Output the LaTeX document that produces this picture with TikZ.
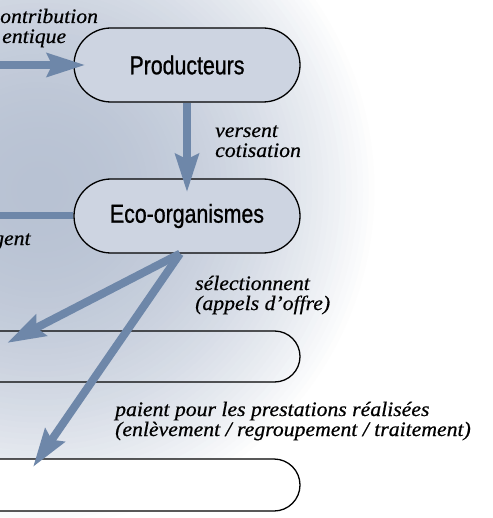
\documentclass[tikz,border=0pt]{standalone}
\usepackage{fontspec}
\usetikzlibrary{arrows.meta,shapes.misc}
\newfontfamily\boxfont[FakeStretch=0.82,FakeBold=0.8]{Liberation Sans}
\newfontfamily\lblfont[FakeStretch=1.06,FakeBold=0.6]{Liberation Serif}
\definecolor{arrowblue}{HTML}{6E87A9}
\definecolor{boxfill}{HTML}{CDD4E1}
\definecolor{bgdark}{HTML}{B8C2D3}
\tikzset{
  pill/.style={rounded rectangle, draw=black, line width=1.3pt, inner sep=0pt,
    font=\boxfont\fontsize{26pt}{30pt}\selectfont},
  conn/.style={draw=arrowblue, line width=8pt,
    -{Stealth[length=38pt,width=23pt,inset=5pt]}},
  plainconn/.style={draw=arrowblue, line width=7pt},
  lbl/.style={anchor=base west, inner sep=0pt,
    font=\lblfont\itshape\fontsize{20.5pt}{20pt}\selectfont}
}
\begin{document}
\begin{tikzpicture}[x=1pt,y=-1pt]
\useasboundingbox (0,0) rectangle (492,518);
\clip (0,0) rectangle (492,518);
\fill[white] (0,0) rectangle (492,518);
\foreach \i in {0,...,59}{
  \pgfmathsetmacro\rr{340*(1-\i/60)}
  \pgfmathsetmacro\pp{100*(1-(1-\i/60)^2)}
  \fill[bgdark!\pp!white] (40,190) circle (\rr);
}
% boxes
\node[pill, fill=boxfill, minimum width=226pt, minimum height=74pt] (prod) at (187,65) {Producteurs};
\node[pill, fill=boxfill, minimum width=226pt, minimum height=74pt] (eco) at (187,216) {Eco-organismes};
\node[pill, minimum width=600pt, minimum height=51pt] (op1) at (0,356.5) {};
\node[pill, fill=white, minimum width=600pt, minimum height=52pt] (op2) at (0,485) {};
% connectors
\coordinate (inP) at (0,65);
\coordinate (inE) at (0,216);
\coordinate (t1) at (7,343);
\coordinate (t2) at (33,467);
\draw[conn] (inP) -- ([xshift=12pt]prod.west);
\draw[conn] (prod.south) -- ([yshift=-14pt]eco.north);
\draw[plainconn] (inE) -- (eco.west);
\draw[conn] ([xshift=-7pt]eco.south) -- (t1);
\draw[conn] ([xshift=-7pt]eco.south) -- (t2);
% labels
\node[lbl] (l1a) at (0,23) {ontribution};
\node[lbl] (l1b) at (2,43) {entique};
\node[lbl] (l2a) at (215,137) {versent};
\node[lbl] (l2b) at (215,157) {cotisation};
\node[lbl] (l3) at (-7,245) {gent};
\node[lbl] (l4a) at (195,290) {sélectionnent};
\node[lbl] (l4b) at (195,310) {(appels d’offre)};
\node[lbl] (l5a) at (115,416) {paient pour les prestations réalisées};
\node[lbl] (l5b) at (115,436) {(enlèvement / regroupement / traitement)};
\end{tikzpicture}
\end{document}
